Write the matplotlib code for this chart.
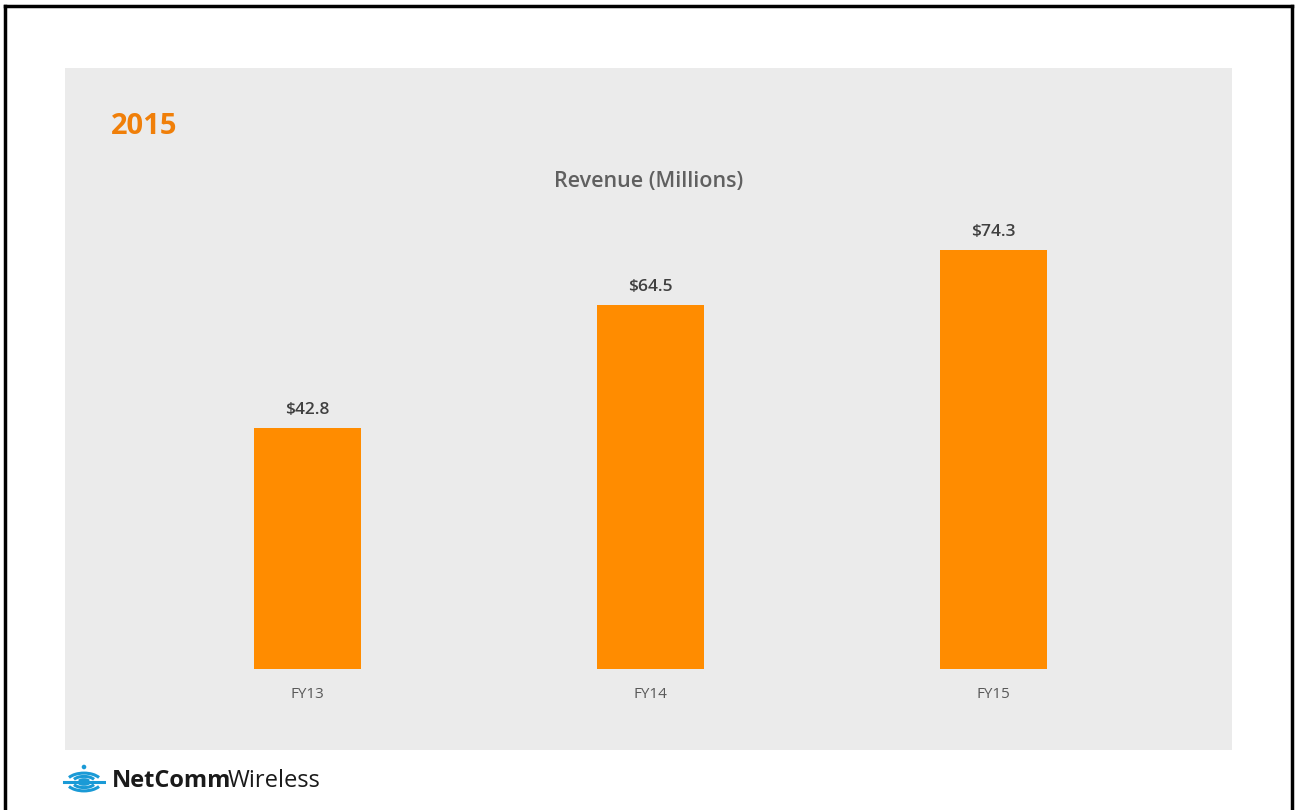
import numpy as np
import matplotlib.pyplot as plt
from matplotlib.lines import Line2D
from matplotlib.patches import Arc, Circle

# DATA
categories = ['FY13', 'FY14', 'FY15']
revenue = [42.8, 64.5, 74.3]
value_labels = ['$42.8', '$64.5', '$74.3']

W, H = 1295, 810
fig = plt.figure(figsize=(W / 100, H / 100), dpi=100)
fig.patch.set_facecolor('white')


def px(x0, y0, x1, y1):
    # pixel box (top-left origin) -> figure fraction rect
    return [x0 / W, 1 - y1 / H, (x1 - x0) / W, (y1 - y0) / H]


# ========== [ grey panel + bars ] ============================
ax = fig.add_axes(px(65, 68, 1232, 750))
ax.set_facecolor('#ebebeb')
for s in ax.spines.values():
    s.set_visible(False)
ax.set_xticks([])
ax.set_yticks([])

x = np.arange(len(categories))
unit = 5.64  # px per million
ax.set_xlim((65 - 307.5) / 343, 2 + (1232 - 993.5) / 343)
ax.set_ylim(-(750 - 669) / unit, (669 - 68) / unit)

ax.bar(x, revenue, width=0.312, color='#ff8c00', zorder=2)

for xi, v, lab in zip(x, revenue, value_labels):
    ax.annotate(lab, (xi, v), xytext=(0, 7), textcoords='offset points',
                ha='center', va='bottom', fontsize=12.5, fontfamily='Open Sans',
                fontweight='semibold', color='#404040')

for xi, c in zip(x, categories):
    ax.text(xi, -(694 - 669) / unit, c, ha='center', va='center',
            fontsize=11, fontfamily='Open Sans', color='#595959')

ax.text(0.5, 1 - (182 - 68) / 682, 'Revenue (Millions)', transform=ax.transAxes,
        ha='center', va='center', fontsize=15.5, fontfamily='Open Sans',
        fontweight='semibold', color='#606060')
ax.text((111 - 65) / 1167, 1 - (126 - 68) / 682, '2015', transform=ax.transAxes,
        ha='left', va='center', fontsize=21, fontfamily='Open Sans',
        fontweight='bold', color='#f07f09')

# ========== [ logo ] ============================
lax = fig.add_axes(px(62, 764, 106, 800))
lax.set_xlim(-1.1, 1.1)
lax.set_ylim(-0.9, 0.9)
lax.axis('off')
for r in [0.3, 0.6, 0.9]:
    lax.add_patch(Arc((0, 0.05), 2 * r, 1.1 * r, theta1=200, theta2=340,
                      color='#1a9ad6', lw=2.2))
    lax.add_patch(Arc((0, -0.05), 2 * r, 1.1 * r, theta1=20, theta2=160,
                      color='#1a9ad6', lw=2.2))
lax.add_patch(Circle((0, 0.75), 0.08, color='#1a9ad6'))
lax.plot([-1.0, 1.0], [0, 0], color='#1a9ad6', lw=2.2)

t = fig.text(112 / W, 1 - 781 / H, 'NetComm', ha='left', va='center',
             fontsize=17, fontfamily='Open Sans', fontweight='bold', color='#1a1a1a')
fig.canvas.draw()
bb = t.get_window_extent()
fig.text((bb.x1 - 4) / W, 1 - 781 / H, 'Wireless', ha='left', va='center',
         fontsize=17, fontfamily='Open Sans', color='#1a1a1a')

# ========== [ frame ] ============================
lw = 2.5
fig.add_artist(Line2D([5 / W, 5 / W], [0, 1 - 6 / H], color='black', lw=lw))
fig.add_artist(Line2D([5 / W, 1292 / W], [1 - 6 / H, 1 - 6 / H], color='black', lw=lw))
fig.add_artist(Line2D([1292 / W, 1292 / W], [0, 1 - 6 / H], color='black', lw=lw))

plt.savefig('out.png', dpi=100)
